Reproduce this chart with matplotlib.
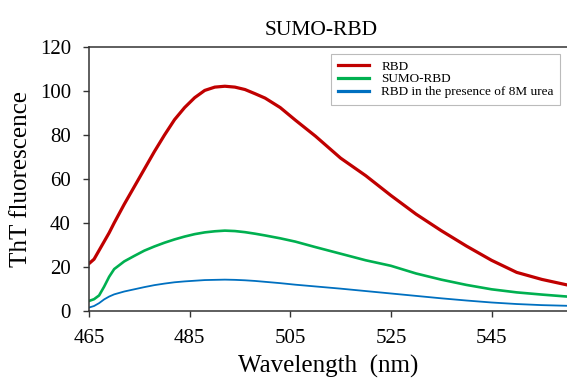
import matplotlib
matplotlib.use("Agg")
import matplotlib.pyplot as plt

plt.rcParams['font.family'] = ['Liberation Serif', 'DejaVu Serif']

wavelength = [465, 466, 467, 468, 469, 470, 472, 474, 476, 478, 480, 482, 484, 486, 488,
              490, 492, 494, 496, 498, 500, 503, 506, 510, 515, 520, 525, 530, 535,
              540, 545, 550, 555, 560]
rbd = [21.5, 23.5, 27.5, 31.5, 35.5, 40.0, 48.5, 56.5, 64.5, 72.5, 80.0, 87.0, 92.5,
       97.0, 100.3, 101.8, 102.2, 101.8, 100.7, 98.8, 96.8, 92.5, 86.8, 79.5, 69.5,
       61.5, 52.5, 44.0, 36.5, 29.5, 23.0, 17.5, 14.3, 11.8]
sumo_rbd = [4.5, 5.3, 7.0, 11.0, 15.5, 19.0, 22.5, 25.0, 27.4, 29.3, 31.0, 32.5, 33.8,
            34.9, 35.7, 36.2, 36.5, 36.3, 35.8, 35.1, 34.3, 33.0, 31.5, 29.0, 26.0,
            23.0, 20.5, 17.0, 14.2, 11.8, 9.8, 8.4, 7.4, 6.5]
rbd_urea = [1.5, 2.2, 3.5, 5.2, 6.5, 7.5, 8.8, 9.8, 10.8, 11.7, 12.4, 13.0, 13.4, 13.7,
            14.0, 14.1, 14.2, 14.1, 13.9, 13.6, 13.2, 12.6, 11.9, 11.1, 10.1, 9.0,
            7.9, 6.8, 5.7, 4.7, 3.8, 3.1, 2.6, 2.3]

labels = ['RBD', 'SUMO-RBD', 'RBD in the presence of 8M urea']
colors = ['#C00000', '#00B050', '#0070C0']
xticks = [465, 485, 505, 525, 545]
yticks = [0, 20, 40, 60, 80, 100, 120]

fig = plt.figure(figsize=(5.67, 3.8), dpi=100)
ax = fig.add_axes([0.157, 0.182, 0.843, 0.694])

ax.plot(wavelength, rbd, color=colors[0], lw=2.3, label=labels[0])
ax.plot(wavelength, sumo_rbd, color=colors[1], lw=1.9, label=labels[1])
ax.plot(wavelength, rbd_urea, color=colors[2], lw=1.3, label=labels[2])

ax.set_xlim(465, 560)
ax.set_ylim(0, 120)
ax.set_xticks(xticks)
ax.set_yticks(yticks)
ax.tick_params(direction='out', length=4, width=1, labelsize=15, pad=9, color='#333333')
ax.spines['right'].set_visible(False)
for s in ['left', 'bottom', 'top']:
    ax.spines[s].set_linewidth(1.1)
    ax.spines[s].set_color('#333333')

ax.set_xlabel('Wavelength  (nm)', fontsize=18, labelpad=5)
ax.set_ylabel('ThT fluorescence', fontsize=18, labelpad=6)
ax.set_title('SUMO-RBD', fontsize=15.5, pad=9, x=0.485)

leg = ax.legend(loc='upper right', fontsize=9.5, frameon=True, fancybox=False,
                edgecolor='#aaaaaa', borderaxespad=0.5, handlelength=2.4,
                labelspacing=0.05, borderpad=0.5, handletextpad=0.9)
leg.get_frame().set_linewidth(0.8)
for line in leg.get_lines():
    line.set_linewidth(2.3)

fig.savefig('out.png', dpi=100)
